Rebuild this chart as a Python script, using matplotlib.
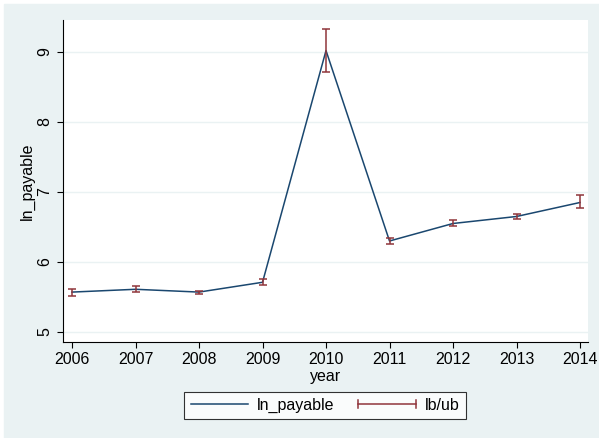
import numpy as np
import matplotlib.pyplot as plt
from matplotlib.lines import Line2D
from matplotlib.patches import Rectangle
from matplotlib.legend_handler import HandlerBase

plt.rcParams['font.family'] = ['Liberation Sans', 'DejaVu Sans']

# mean of ln_payable by year with lower/upper bounds
years = [2006, 2007, 2008, 2009, 2010, 2011, 2012, 2013, 2014]
ln_payable = [5.57, 5.61, 5.57, 5.71, 9.02, 6.30, 6.55, 6.65, 6.85]
lb = [5.52, 5.57, 5.54, 5.67, 8.72, 6.26, 6.51, 6.62, 6.77]
ub = [5.61, 5.66, 5.59, 5.75, 9.33, 6.34, 6.60, 6.69, 6.95]

navy = "#1a476f"
maroon = "#90353b"
bg = "#eaf2f3"


class CapLineHandler(HandlerBase):
    """Horizontal line with vertical end caps, like a range-cap key."""
    def create_artists(self, legend, orig_handle, xdescent, ydescent,
                       width, height, fontsize, trans):
        y = height / 2 - ydescent
        cap = height * 0.35
        x0, x1 = -xdescent, width - xdescent
        kw = dict(color=maroon, linewidth=1.1, transform=trans)
        return [Line2D([x0, x1], [y, y], **kw),
                Line2D([x0, x0], [y - cap, y + cap], **kw),
                Line2D([x1, x1], [y - cap, y + cap], **kw)]


fig = plt.figure(figsize=(5.99, 4.38), dpi=100, facecolor="white")
fig.patches.append(Rectangle((4 / 599, 0), 595 / 599, 434 / 438,
                             transform=fig.transFigure, color=bg, zorder=-1))

ax = fig.add_axes([63 / 599, 1 - 342 / 438, 525 / 599, 322 / 438])
ax.set_facecolor("white")

yerr = [np.array(ln_payable) - np.array(lb), np.array(ub) - np.array(ln_payable)]
ax.plot(years, ln_payable, color=navy, linewidth=1.1, zorder=3)
ax.errorbar(years, ln_payable, yerr=yerr, fmt="none", ecolor=maroon,
            elinewidth=1.1, capsize=3, capthick=1.1, zorder=4)

ax.set_xlim(2005.858, 2014.126)
ax.set_ylim(4.857, 9.457)
ax.set_xticks(years)
ax.set_yticks([5, 6, 7, 8, 9])
ax.set_yticklabels(["5", "6", "7", "8", "9"], rotation=90, va="center")
ax.tick_params(axis="both", direction="out", length=4, width=0.8,
               labelsize=11.5, colors="black")
ax.grid(axis="y", color=bg, linewidth=1)
ax.set_axisbelow(True)
for side in ("top", "right"):
    ax.spines[side].set_visible(False)
for side in ("left", "bottom"):
    ax.spines[side].set_linewidth(0.8)

ax.set_xlabel("year", fontsize=11.5, labelpad=1)
ax.set_ylabel("ln_payable", fontsize=11.5, labelpad=2)

line_key = Line2D([], [], color=navy, linewidth=1.1)
cap_key = Line2D([], [], color=maroon)
leg = fig.legend([line_key, cap_key], ["ln_payable", "lb/ub"], loc="center",
                 bbox_to_anchor=(325 / 599, 1 - 405.5 / 438), ncol=2,
                 fontsize=11.5, frameon=True, fancybox=False, edgecolor="black",
                 handlelength=3.6, columnspacing=1.5, borderpad=0.4,
                 handletextpad=0.55, borderaxespad=0,
                 handler_map={cap_key: CapLineHandler()})
leg.get_frame().set_linewidth(0.8)

fig.savefig("out.png", dpi=100, facecolor=fig.get_facecolor())
